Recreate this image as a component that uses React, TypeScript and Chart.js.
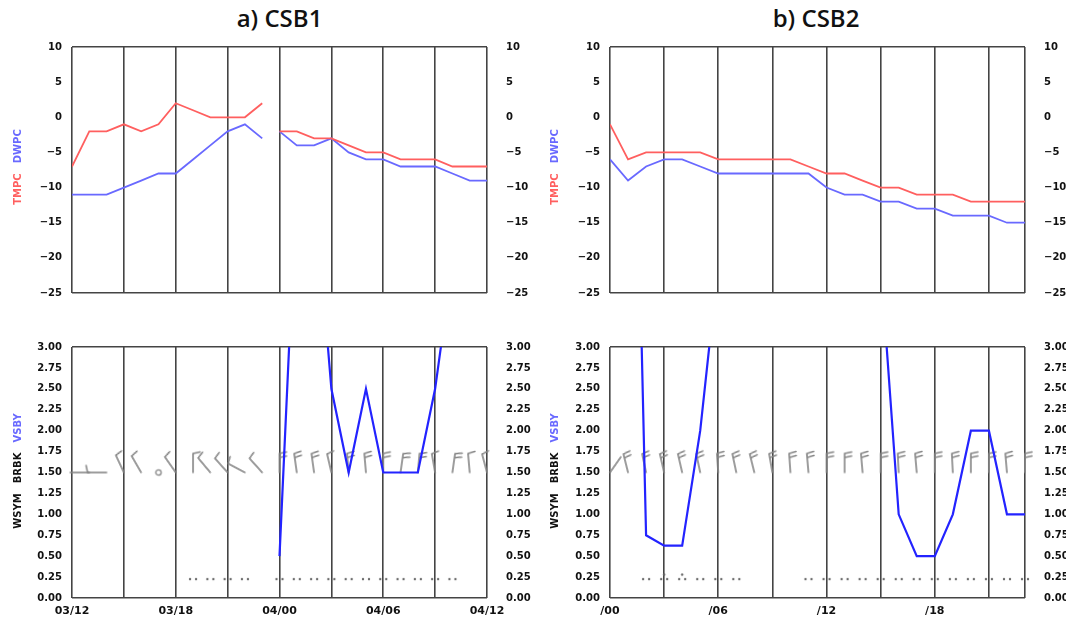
import React, { useEffect, useRef } from "react";
import { Chart, registerables } from "chart.js";
Chart.register(...registerables);

// ---------------- data ----------------
const hoursA = [0, 1, 2, 3, 4, 5, 6, 7, 8, 9, 10, 11, 12, 13, 14, 15, 16, 17, 18, 19, 20, 21, 22, 23, 24];
const hoursB = [0, 1, 2, 3, 4, 5, 6, 7, 8, 9, 10, 11, 12, 13, 14, 15, 16, 17, 18, 19, 20, 21, 22, 23];

// CSB1 temperature / dew point (deg C)
const tmpcA = [-7, -2, -2, -1, -2, -1, 2, 1, 0, 0, 0, 2, -2, -2, -3, -3, -4, -5, -5, -6, -6, -6, -7, -7, -7];
const dwpcA = [-11, -11, -11, -10, -9, -8, -8, -6, -4, -2, -1, -3, -2, -4, -4, -3, -5, -6, -6, -7, -7, -7, -8, -9, -9];
const gapAfterA = 11; // observation break between hour 11 and hour 12

// CSB2 temperature / dew point (deg C)
const tmpcB = [-1, -6, -5, -5, -5, -5, -6, -6, -6, -6, -6, -7, -8, -8, -9, -10, -10, -11, -11, -11, -12, -12, -12, -12];
const dwpcB = [-6, -9, -7, -6, -6, -7, -8, -8, -8, -8, -8, -8, -10, -11, -11, -12, -12, -13, -13, -14, -14, -14, -15, -15];

// visibility (miles)
const vsbyA = [null, null, null, null, null, null, null, null, null, null, null, null, 0.5, 5, 5, 2.5, 1.5, 2.5, 1.5, 1.5, 1.5, 2.5, 4, 5, 5];
const vsbyB = [10, 10, 0.75, 0.625, 0.625, 2, 4, 10, 10, 10, 10, 10, 10, 10, 10, 4, 1, 0.5, 0.5, 1, 2, 2, 1, 1];

// wind barbs: direction (deg, staff points to it) and feather count (-1 = calm, null = none)
const windDirA = [null, 270, 270, 335, 330, 0, 325, 0, 320, 318, 298, 318, 0, 352, 352, 347, 355, 355, 0, 8, 5, 350, 8, 355, 345];
const windBarbA = [null, 0, 1, 1, 1, -1, 1, 1, 1, 1, 1, 1, 2, 2, 2, 1, 2, 2, 2, 2, 2, 1, 2, 1, 1];
const windDirB = [35, 346, 348, 347, 347, 348, 356, 348, 346, 350, 356, 355, 0, 0, 355, 0, 357, 355, 0, 357, 0, 0, 355, 0];
const windBarbB = [0, 2, 2, 2, 2, 2, 2, 2, 2, 2, 2, 2, 2, 2, 2, 2, 2, 2, 2, 2, 2, 2, 2, 2];

// weather symbols: 0 none, 1 light rain (..), 2 moderate rain (.:.)
const wxA = [0, 0, 0, 0, 0, 0, 0, 1, 1, 1, 1, 0, 1, 1, 1, 1, 1, 1, 1, 1, 1, 1, 1, 0, 0];
const wxB = [0, 0, 1, 2, 2, 1, 1, 1, 0, 0, 0, 1, 1, 1, 1, 1, 1, 1, 1, 1, 1, 1, 1, 1];

// axes
const gridHoursA = [0, 3, 6, 9, 12, 15, 18, 21, 24];
const gridHoursB = [0, 3, 6, 9, 12, 15, 18, 21, 23];
const labelHoursA = [0, 6, 12, 18, 24];
const labelTextA = ["03/12", "03/18", "04/00", "04/06", "04/12"];
const labelHoursB = [0, 6, 12, 18];
const labelTextB = ["/00", "/06", "/12", "/18"];
const tempTicks = [-25, -20, -15, -10, -5, 0, 5, 10];
const visTicks = [0, 0.25, 0.5, 0.75, 1, 1.25, 1.5, 1.75, 2, 2.25, 2.5, 2.75, 3];

// ---------------- style ----------------
const FONT = '"DejaVu Sans", Verdana, sans-serif';
const RED = "rgb(255,95,95)";
const BLUE_D = "rgb(105,105,255)";
const BLUE_V = "rgb(35,35,255)";
const FRAME = "#444444";
const BARB = "#858585";
const DOT = "#6a6a6a";
const BARB_LEVEL = 1.5;
const WX_LEVEL = 0.25;

type Imgs = { barb: HTMLCanvasElement[]; calm: HTMLCanvasElement; wx: HTMLCanvasElement[] };

function makeImages(): Imgs {
  const L = 19;
  const S = 2 * (L + 9);
  const barb = [0, 1, 2].map((n) => {
    const c = document.createElement("canvas");
    c.width = S;
    c.height = S;
    const g = c.getContext("2d")!;
    const cx = S / 2, cy = S / 2;
    g.strokeStyle = BARB;
    g.lineWidth = 1.6;
    g.lineCap = "round";
    g.beginPath();
    g.moveTo(cx, cy);
    g.lineTo(cx, cy - L);
    for (let k = 0; k < n; k++) {
      const y0 = cy - L + k * 4;
      g.moveTo(cx, y0);
      g.lineTo(cx + 7, y0 - 1.5);
    }
    g.stroke();
    return c;
  });
  const calm = document.createElement("canvas");
  calm.width = 10;
  calm.height = 10;
  {
    const g = calm.getContext("2d")!;
    g.strokeStyle = BARB;
    g.lineWidth = 1.3;
    g.beginPath();
    g.arc(5, 5, 2.7, 0, Math.PI * 2);
    g.stroke();
  }
  const wx = [1, 2].map((n) => {
    const c = document.createElement("canvas");
    c.width = 14;
    c.height = 12;
    const g = c.getContext("2d")!;
    g.fillStyle = DOT;
    const pts = n === 1 ? [[4, 8], [10, 8]] : [[4, 8], [10, 8], [7, 3.5]];
    pts.forEach(([x, y]) => {
      g.beginPath();
      g.arc(x, y, 1.2, 0, Math.PI * 2);
      g.fill();
    });
    return c;
  });
  return { barb, calm, wx };
}

const fmtTemp = (v: number) => (v < 0 ? "\u2212" + String(-v) : String(v));
const fmtVis = (v: number) => v.toFixed(2);

function buildScales(o: {
  xMax: number;
  gridHours: number[];
  labelHours?: number[];
  labelText?: string[];
  yTicks: number[];
  yFmt: (v: number) => string;
  yLW: number;
  yRW: number;
  xH: number;
}) {
  const yMin = o.yTicks[0];
  const yMax = o.yTicks[o.yTicks.length - 1];
  const setTicks = (vals: number[]) => (s: any) => {
    s.ticks = vals.map((v) => ({ value: v }));
  };
  const yTickOpts = (pad: number) => ({
    autoSkip: false,
    font: { family: FONT, size: 10, weight: "bold" },
    color: "#111",
    padding: pad,
    callback: (v: any) => o.yFmt(Number(v)),
  });
  return {
    x: {
      type: "linear",
      min: 0,
      max: o.xMax,
      afterBuildTicks: setTicks(o.gridHours),
      afterFit: (s: any) => {
        s.height = o.xH;
      },
      ticks: {
        display: !!o.labelHours,
        autoSkip: false,
        maxRotation: 0,
        minRotation: 0,
        padding: 7,
        font: { family: FONT, size: 11, weight: "bold" },
        color: "#111",
        callback: (v: any) => {
          const i = o.labelHours ? o.labelHours.indexOf(Number(v)) : -1;
          return i >= 0 && o.labelText ? o.labelText[i] : "";
        },
      },
      grid: { color: FRAME, lineWidth: 1.6, drawTicks: false },
      border: { display: false },
    },
    y: {
      type: "linear",
      position: "left",
      min: yMin,
      max: yMax,
      afterBuildTicks: setTicks(o.yTicks),
      afterFit: (s: any) => {
        s.width = o.yLW;
      },
      ticks: yTickOpts(10),
      grid: {
        color: (c: any) =>
          c.tick && (c.tick.value === yMin || c.tick.value === yMax) ? FRAME : "rgba(0,0,0,0)",
        lineWidth: 1.6,
        drawTicks: false,
      },
      border: { display: false },
    },
    y2: {
      type: "linear",
      position: "right",
      min: yMin,
      max: yMax,
      afterBuildTicks: setTicks(o.yTicks),
      afterFit: (s: any) => {
        s.width = o.yRW;
      },
      ticks: yTickOpts(11),
      grid: { display: false },
      border: { display: false },
    },
  };
}

function baseOptions(padTop: number, scales: any) {
  return {
    responsive: false,
    animation: false,
    events: [],
    layout: { padding: { top: padTop, left: 0, right: 0, bottom: 0 } },
    plugins: { legend: { display: false }, tooltip: { enabled: false }, title: { display: false } },
    scales,
  };
}

function tempConfig(p: {
  hours: number[];
  tmpc: number[];
  dwpc: number[];
  gapAfter: number | null;
  xMax: number;
  gridHours: number[];
  yLW: number;
  yRW: number;
}) {
  const seg = {
    borderColor: (c: any) => (p.gapAfter !== null && c.p0DataIndex === p.gapAfter ? "rgba(0,0,0,0)" : undefined),
  };
  return {
    type: "line",
    data: {
      datasets: [
        {
          label: "TMPC",
          data: p.hours.map((h, i) => ({ x: h, y: p.tmpc[i] })),
          borderColor: RED,
          borderWidth: 1.8,
          pointRadius: 0,
          yAxisID: "y",
          segment: seg,
        },
        {
          label: "DWPC",
          data: p.hours.map((h, i) => ({ x: h, y: p.dwpc[i] })),
          borderColor: BLUE_D,
          borderWidth: 1.8,
          pointRadius: 0,
          yAxisID: "y",
          segment: seg,
        },
      ],
    },
    options: baseOptions(
      11,
      buildScales({
        xMax: p.xMax,
        gridHours: p.gridHours,
        yTicks: tempTicks,
        yFmt: fmtTemp,
        yLW: p.yLW,
        yRW: p.yRW,
        xH: 14,
      })
    ),
  };
}

function visConfig(
  p: {
    hours: number[];
    vsby: (number | null)[];
    windDir: (number | null)[];
    windBarb: (number | null)[];
    wx: number[];
    xMax: number;
    gridHours: number[];
    labelHours: number[];
    labelText: string[];
    yLW: number;
    yRW: number;
  },
  imgs: Imgs
) {
  const barbPts: any[] = [];
  const barbStyles: any[] = [];
  const barbRot: number[] = [];
  p.hours.forEach((h, i) => {
    const f = p.windBarb[i];
    if (f === null || f === undefined) return;
    barbPts.push({ x: h, y: BARB_LEVEL });
    barbStyles.push(f < 0 ? imgs.calm : imgs.barb[f]);
    barbRot.push(f < 0 ? 0 : (p.windDir[i] as number));
  });
  const wxPts: any[] = [];
  const wxStyles: any[] = [];
  p.hours.forEach((h, i) => {
    const w = p.wx[i];
    if (!w) return;
    wxPts.push({ x: h, y: WX_LEVEL });
    wxStyles.push(imgs.wx[w - 1]);
  });
  return {
    type: "line",
    data: {
      datasets: [
        {
          label: "VSBY",
          data: p.hours.map((h, i) => ({ x: h, y: p.vsby[i] })),
          borderColor: BLUE_V,
          borderWidth: 2.2,
          pointRadius: 0,
          yAxisID: "y",
          spanGaps: false,
        },
        {
          label: "BRBK",
          data: barbPts,
          showLine: false,
          pointRadius: 3,
          pointStyle: (c: any) => barbStyles[c.dataIndex],
          pointRotation: (c: any) => barbRot[c.dataIndex],
          yAxisID: "y",
          clip: false,
        },
        {
          label: "WSYM",
          data: wxPts,
          showLine: false,
          pointRadius: 3,
          pointStyle: (c: any) => wxStyles[c.dataIndex],
          yAxisID: "y",
          clip: false,
        },
      ],
    },
    options: baseOptions(
      13,
      buildScales({
        xMax: p.xMax,
        gridHours: p.gridHours,
        labelHours: p.labelHours,
        labelText: p.labelText,
        yTicks: visTicks,
        yFmt: fmtVis,
        yLW: p.yLW,
        yRW: p.yRW,
        xH: 25,
      })
    ),
  };
}

function Panel(props: { left: number; top: number; width: number; height: number; make: (imgs: Imgs) => any }) {
  const ref = useRef<HTMLCanvasElement>(null);
  useEffect(() => {
    const imgs = makeImages();
    const chart = new Chart(ref.current as HTMLCanvasElement, props.make(imgs));
    return () => chart.destroy();
  }, []);
  return (
    <canvas
      ref={ref}
      width={props.width}
      height={props.height}
      style={{ position: "absolute", left: props.left, top: props.top, width: props.width, height: props.height }}
    />
  );
}

function AxisTitle(props: { cx: number; cy: number; parts: [string, string][] }) {
  return (
    <div
      style={{
        position: "absolute",
        left: props.cx,
        top: props.cy,
        transform: "translate(-50%, -50%) rotate(-90deg)",
        whiteSpace: "nowrap",
        fontFamily: FONT,
        fontWeight: "bold",
        fontSize: 10,
        lineHeight: "12px",
      }}
    >
      {props.parts.map(([t, c], i) => (
        <span key={i} style={{ color: c, marginLeft: i === 0 ? 0 : 10 }}>
          {t}
        </span>
      ))}
    </div>
  );
}

function Title(props: { cx: number; text: string }) {
  return (
    <div
      style={{
        position: "absolute",
        left: props.cx,
        top: 3,
        transform: "translateX(-50%)",
        whiteSpace: "nowrap",
        fontFamily: '"Open Sans", sans-serif',
        fontWeight: 600,
        fontSize: 24,
        lineHeight: "30px",
        color: "#111",
      }}
    >
      {props.text}
    </div>
  );
}

export default function App() {
  return (
    <div style={{ position: "absolute", left: 0, top: 0, width: 1066, height: 623, background: "#fff", overflow: "hidden" }}>
      <Title cx={279.5} text="a) CSB1" />
      <Title cx={816} text="b) CSB2" />

      <Panel
        left={0}
        top={30}
        width={540}
        height={280}
        make={() =>
          tempConfig({ hours: hoursA, tmpc: tmpcA, dwpc: dwpcA, gapAfter: gapAfterA, xMax: 24, gridHours: gridHoursA, yLW: 72, yRW: 53 })
        }
      />
      <Panel
        left={0}
        top={330}
        width={540}
        height={293}
        make={(imgs) =>
          visConfig(
            {
              hours: hoursA,
              vsby: vsbyA,
              windDir: windDirA,
              windBarb: windBarbA,
              wx: wxA,
              xMax: 24,
              gridHours: gridHoursA,
              labelHours: labelHoursA,
              labelText: labelTextA,
              yLW: 72,
              yRW: 53,
            },
            imgs
          )
        }
      />
      <Panel
        left={540}
        top={30}
        width={526}
        height={280}
        make={() =>
          tempConfig({ hours: hoursB, tmpc: tmpcB, dwpc: dwpcB, gapAfter: null, xMax: 23, gridHours: gridHoursB, yLW: 70, yRW: 41 })
        }
      />
      <Panel
        left={540}
        top={330}
        width={526}
        height={293}
        make={(imgs) =>
          visConfig(
            {
              hours: hoursB,
              vsby: vsbyB,
              windDir: windDirB,
              windBarb: windBarbB,
              wx: wxB,
              xMax: 23,
              gridHours: gridHoursB,
              labelHours: labelHoursB,
              labelText: labelTextB,
              yLW: 70,
              yRW: 41,
            },
            imgs
          )
        }
      />

      <AxisTitle cx={18} cy={167} parts={[["TMPC", RED], ["DWPC", BLUE_D]]} />
      <AxisTitle cx={18} cy={471} parts={[["WSYM", "#111"], ["BRBK", "#111"], ["VSBY", BLUE_D]]} />
      <AxisTitle cx={555} cy={167} parts={[["TMPC", RED], ["DWPC", BLUE_D]]} />
      <AxisTitle cx={555} cy={471} parts={[["WSYM", "#111"], ["BRBK", "#111"], ["VSBY", BLUE_D]]} />
    </div>
  );
}
